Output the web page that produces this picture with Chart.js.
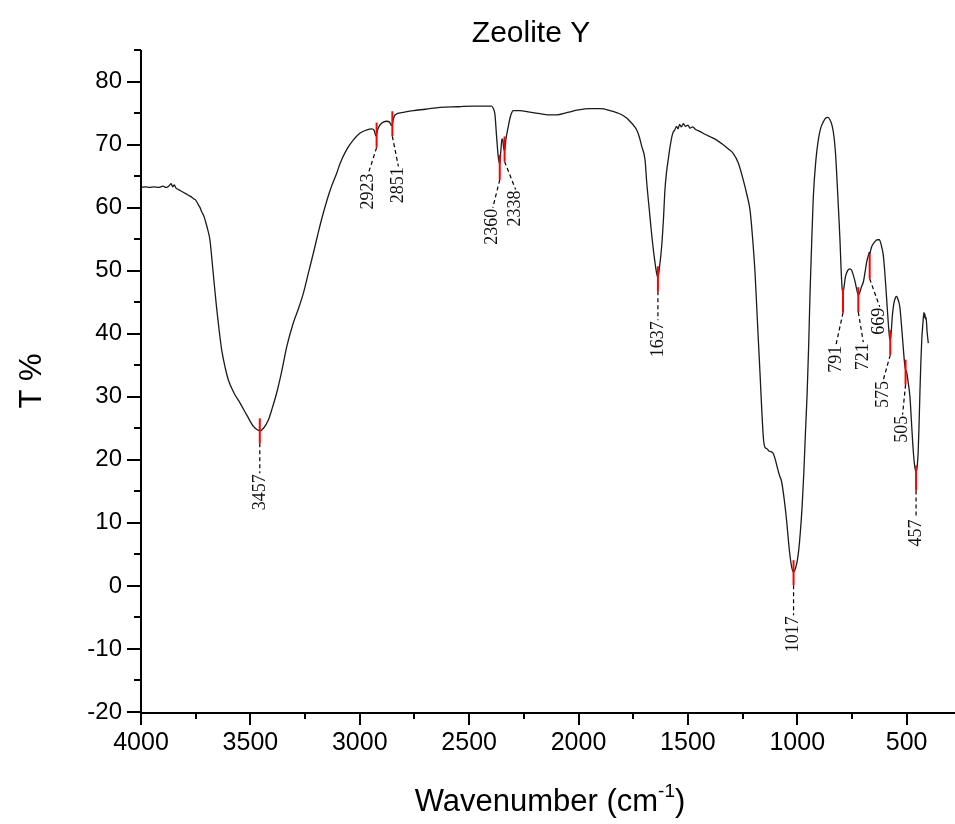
<!DOCTYPE html>
<html><head><meta charset="utf-8">
<script src="https://cdn.jsdelivr.net/npm/chart.js@4.4.0/dist/chart.umd.min.js"></script>
<style>html,body{margin:0;padding:0;background:#fff}#wrap{width:955px;height:824px;position:relative}</style>
</head><body><div id="wrap"><canvas id="c" width="955" height="824"></canvas></div>
<script>
// ---- data ----
const chartTitle = 'Zeolite Y';
const wavenumbers = [4000,3980,3960,3940,3920,3900,3885,3870,3862,3855,3848,3840,3830,3815,3800,3785,3770,3760,3750,3740,3730,3722,3712,3705,3695,3685,3675,3665,3655,3645,3631,3615,3601,3575,3547,3515,3486,3470,3457,3440,3418,3400,3380,3357,3334,3304,3280,3258,3235,3212,3190,3167,3135,3105,3090,3060,3030,3000,2970,2945,2935,2926,2918,2908,2890,2877,2865,2854,2846,2839,2800,2755,2700,2633,2550,2481,2420,2397,2388,2382,2375,2367,2360,2355,2350,2346,2342,2338,2332,2321,2310,2298,2268,2230,2176,2140,2100,2050,2000,1948,1900,1856,1820,1800,1780,1760,1745,1734,1722,1711,1696,1688,1676,1666,1655,1643,1637,1630,1620,1612,1605,1598,1590,1580,1570,1559,1552,1545,1538,1530,1521,1510,1500,1490,1478,1465,1445,1420,1395,1368,1340,1315,1293,1270,1247,1230,1216,1205,1193,1185,1178,1170,1163,1155,1148,1140,1130,1120,1110,1100,1090,1080,1072,1060,1048,1040,1033,1025,1017,1008,1000,993,986,978,970,963,955,948,942,935,927,915,904,893,881,870,860,850,840,832,825,820,812,805,800,795,791,786,780,770,760,752,744,736,728,721,714,706,698,690,682,675,671,669,666,660,652,645,635,625,615,607,600,592,584,578,575,570,565,558,550,546,540,531,524,516,510,505,500,493,485,478,472,465,459,457,452,447,443,439,435,431,426,421,419,417,414,411,407,401];
const transmittance = [63.2,63.3,63.2,63.3,63.2,63.4,63.2,63.5,63.8,63.3,63.6,63.1,62.9,62.6,62.3,62.0,61.7,61.4,61.2,60.6,60.0,59.3,58.6,57.8,56.5,54.9,51.5,47.8,44.3,41.2,37.4,34.6,32.7,30.6,29.0,27.0,25.3,24.8,24.6,25.0,26.3,28.2,30.6,34.0,37.9,41.7,44.0,46.4,49.6,52.8,56.0,59.1,62.8,65.5,67.0,69.2,70.7,71.8,72.3,72.5,72.3,71.4,72.4,73.1,73.6,73.7,73.6,73.0,74.1,74.7,75.1,75.4,75.6,75.9,76.0,76.1,76.1,76.1,75.6,74.8,71.5,68.1,66.9,69.0,70.9,70.7,69.4,69.0,70.8,72.9,74.6,75.4,75.4,75.2,74.9,74.7,74.7,75.1,75.5,75.7,75.7,75.4,75.0,74.7,74.2,73.5,72.9,72.3,71.2,69.7,67.6,63.9,59.5,55.9,52.5,49.6,48.9,50.5,53.8,58.0,62.8,65.5,67.6,70.0,71.7,72.4,72.9,72.5,73.2,72.8,73.3,72.9,73.1,72.6,72.8,72.4,72.1,71.6,71.2,70.7,70.0,69.3,68.6,67.1,64.4,62.0,59.6,55.5,49.6,44.0,39.0,33.5,28.4,23.5,22.0,21.8,21.4,21.3,21.0,20.0,18.6,17.4,16.6,13.8,10.1,7.0,4.7,2.9,2.2,2.8,4.0,5.8,8.5,12.5,18.0,24.0,30.5,38.0,46.0,53.5,61.5,67.5,70.7,72.6,73.6,74.2,74.3,73.9,72.9,71.2,68.5,65.5,60.0,55.0,50.5,47.2,46.5,47.5,49.0,50.0,50.3,50.1,49.3,48.3,47.0,46.1,46.6,47.5,48.2,49.8,51.5,52.4,52.9,52.6,53.0,53.8,54.3,54.6,54.9,54.9,53.9,52.5,49.8,45.8,41.7,39.3,39.0,40.5,43.0,44.9,45.8,45.9,45.5,44.2,41.5,38.0,35.5,34.3,33.9,32.3,30.0,26.0,22.5,19.5,18.2,18.1,18.9,21.6,26.0,31.1,35.5,39.0,41.5,43.4,42.6,43.2,42.3,42.6,40.5,38.5];
const peakWavenumbers = [3457,2923,2851,2360,2338,1637,1017,791,721,669,575,505,457];
const peakMarkerT = [24.6,71.5,73.3,66.4,69.3,48.7,2.1,45.3,45.4,50.7,38.6,33.9,17.1];
const xMajorTicks = [4000,3500,3000,2500,2000,1500,1000,500];
const xMinorTicks = [3750,3250,2750,2250,1750,1250,750];
const yMajorTicks = [-20,-10,0,10,20,30,40,50,60,70,80];
const yMinorTicks = [-15,-5,5,15,25,35,45,55,65,75,85];
const xTitle = 'Wavenumber (cm';
const xTitleSup = '-1';
const yTitle = 'T %';

// leader-line end offsets (px) for each peak label, style only
const leaderOffsets = [[0,30],[-8,25],[6,30],[-7,28],[11,28],[0,29],[0,30],[-7,32],[5,30],[10,28],[-7,25],[-3,30],[0,28]];

const points = wavenumbers.map((w,i)=>({x:w,y:transmittance[i]}));

const decor = {
  id:'decor',
  afterDraw(chart){
    const ctx = chart.ctx, xs = chart.scales.x, ys = chart.scales.y, a = chart.chartArea;
    ctx.save();
    // axes
    ctx.strokeStyle='#000'; ctx.lineWidth=2; ctx.lineCap='butt';
    ctx.beginPath(); ctx.moveTo(a.left, a.top); ctx.lineTo(a.left, a.bottom+1); ctx.lineTo(a.right, a.bottom+1); ctx.stroke();
    xMajorTicks.forEach(v=>{const p=Math.round(xs.getPixelForValue(v)); ctx.beginPath(); ctx.moveTo(p,a.bottom); ctx.lineTo(p,a.bottom+13); ctx.stroke();});
    xMinorTicks.forEach(v=>{const p=Math.round(xs.getPixelForValue(v)); ctx.beginPath(); ctx.moveTo(p,a.bottom); ctx.lineTo(p,a.bottom+7); ctx.stroke();});
    yMajorTicks.forEach(v=>{const p=Math.round(ys.getPixelForValue(v)); ctx.beginPath(); ctx.moveTo(a.left,p); ctx.lineTo(a.left-14,p); ctx.stroke();});
    yMinorTicks.forEach(v=>{const p=Math.round(ys.getPixelForValue(v)); ctx.beginPath(); ctx.moveTo(a.left,p); ctx.lineTo(a.left-7,p); ctx.stroke();});
    // peak markers and labels
    peakWavenumbers.forEach((w,i)=>{
      const px = xs.getPixelForValue(w), py = ys.getPixelForValue(peakMarkerT[i]);
      ctx.strokeStyle='#ff0000'; ctx.lineWidth=2; ctx.setLineDash([]);
      ctx.beginPath(); ctx.moveTo(px,py-12.5); ctx.lineTo(px,py+12.5); ctx.stroke();
      const ex = px+leaderOffsets[i][0], ey = py+12.5+leaderOffsets[i][1];
      ctx.strokeStyle='#000'; ctx.lineWidth=1.2; ctx.setLineDash([4,3]);
      ctx.beginPath(); ctx.moveTo(px,py+12.5); ctx.lineTo(ex,ey); ctx.stroke();
      ctx.setLineDash([]);
      ctx.save(); ctx.translate(ex, ey+1); ctx.rotate(-Math.PI/2);
      ctx.fillStyle='#111'; ctx.font='18px "Liberation Serif", "Times New Roman", serif';
      ctx.textAlign='right'; ctx.textBaseline='middle';
      ctx.fillText(String(w),0,0); ctx.restore();
    });
    // titles
    ctx.fillStyle='#000';
    ctx.font='30px "Liberation Sans", Arial, sans-serif'; ctx.textAlign='center'; ctx.textBaseline='alphabetic';
    ctx.fillText(chartTitle, 531, 42);
    ctx.font='31px "Liberation Sans", Arial, sans-serif';
    const w1 = ctx.measureText(xTitle).width;
    ctx.font='19px "Liberation Sans", Arial, sans-serif';
    const w2 = ctx.measureText(xTitleSup).width;
    ctx.font='31px "Liberation Sans", Arial, sans-serif';
    const w3 = ctx.measureText(')').width;
    let sx = 550 - (w1+w2+w3)/2;
    ctx.textAlign='left';
    ctx.fillText(xTitle, sx, 811); sx+=w1;
    ctx.font='19px "Liberation Sans", Arial, sans-serif';
    ctx.fillText(xTitleSup, sx, 797); sx+=w2;
    ctx.font='31px "Liberation Sans", Arial, sans-serif';
    ctx.fillText(')', sx, 811);
    ctx.save(); ctx.translate(41, 381); ctx.rotate(-Math.PI/2);
    ctx.font='31px "Liberation Sans", Arial, sans-serif'; ctx.textAlign='center'; ctx.textBaseline='alphabetic';
    ctx.fillText(yTitle,0,0); ctx.restore();
    ctx.restore();
  }
};

new Chart(document.getElementById('c'), {
  type:'line',
  data:{datasets:[{data:points, borderColor:'#1a1a1a', borderWidth:1.3, pointRadius:0, cubicInterpolationMode:'monotone', fill:false}]},
  options:{
    responsive:false, animation:false, devicePixelRatio:1,
    layout:{padding:{top:50,right:0,left:0,bottom:0}},
    plugins:{legend:{display:false}, tooltip:{enabled:false}, title:{display:false}},
    scales:{
      x:{type:'linear', reverse:true, min:279, max:4000,
        grid:{display:false, drawTicks:false}, border:{display:false},
        afterBuildTicks:s=>{s.ticks = xMajorTicks.map(v=>({value:v}));},
        afterFit:s=>{s.height = 112;},
        ticks:{color:'#000', padding:16, maxRotation:0, autoSkip:false, font:{family:'"Liberation Sans", Arial, sans-serif', size:25}, callback:v=>String(v)}},
      y:{type:'linear', min:-20, max:85,
        grid:{display:false, drawTicks:false}, border:{display:false},
        afterBuildTicks:s=>{s.ticks = yMajorTicks.map(v=>({value:v}));},
        afterFit:s=>{s.width = 141;},
        ticks:{color:'#000', padding:19, autoSkip:false, font:{family:'"Liberation Sans", Arial, sans-serif', size:24}, callback:v=>String(v)}}
    }
  },
  plugins:[decor]
});
</script></body></html>
